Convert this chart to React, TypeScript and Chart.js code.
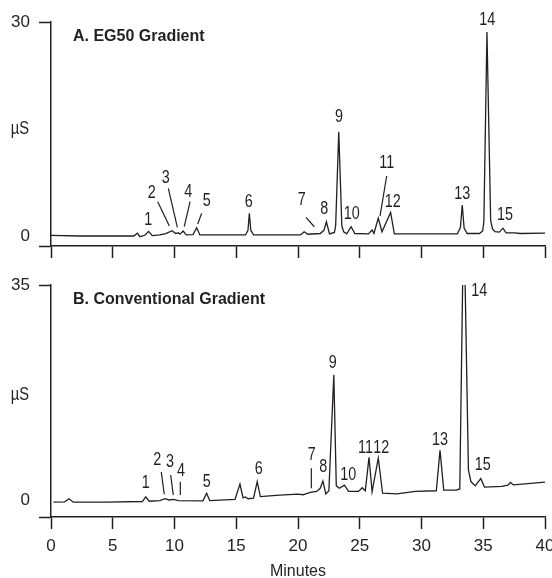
import React, { useEffect, useRef } from 'react';
import { Chart, registerables } from 'chart.js';

Chart.register(...registerables);

// ---------- data (minutes, µS) ----------
const minuteTicks = [0, 5, 10, 15, 20, 25, 30, 35, 40];

const timeA = [0, 2.3, 6.7, 7.0, 7.2, 7.6, 7.9, 8.2, 8.8, 9.3, 9.8, 10.1, 10.3, 10.45, 10.7, 10.95, 11.5, 11.8, 12.05,
  15.75, 15.95, 16.06, 16.18, 16.4, 20.2, 20.5, 20.8, 21.8, 22.1, 22.3, 22.55, 22.95, 23.05, 23.3, 23.55, 23.7, 23.95,
  24.3, 24.6, 25.7, 26.0, 26.15, 26.5, 26.8, 27.5, 27.8, 32.9, 33.15, 33.3, 33.45, 33.7, 34.7, 34.95, 35.05, 35.3,
  35.6, 35.75, 35.95, 36.3, 36.6, 36.85, 37.5, 38.0, 40.0];
const signalA = [0.1, 0.0, 0.0, 0.4, -0.1, 0.1, 0.65, 0.05, 0.15, 0.35, 0.75, 0.35, 0.45, 0.25, 0.7, 0.15, 0.2, 1.15, 0.15,
  0.15, 0.8, 3.2, 0.8, 0.15, 0.15, 0.6, 0.25, 0.35, 0.8, 2.0, 0.3, 0.5, 1.5, 14.6, 1.4, 0.6, 0.3,
  1.3, 0.35, 0.3, 0.85, 0.35, 2.5, 0.6, 3.3, 0.3, 0.3, 1.2, 4.35, 1.1, 0.35, 0.35, 0.7, 2.0, 28.6,
  2.2, 1.0, 0.6, 0.55, 1.1, 0.45, 0.45, 0.35, 0.4];

const timeB = [0.2, 1.1, 1.46, 1.8, 4.5, 7.4, 7.67, 7.95, 8.8, 9.25, 9.55, 9.95, 10.3, 12.3, 12.6, 12.85, 14.9, 15.3,
  15.55, 15.75, 15.95, 16.4, 16.7, 16.95, 18.5, 20.0, 20.4, 21.0, 21.5, 21.8, 22.02, 22.25, 22.5, 22.9, 23.1, 23.35,
  23.75, 24.1, 24.9, 25.2, 25.45, 25.75, 26.0, 26.5, 26.85, 28.0, 29.5, 31.2, 31.5, 31.8, 32.8, 33.1, 33.42, 33.8,
  34.0, 34.35, 34.8, 35.1, 36.5, 37.0, 37.2, 37.45, 40.0];
const signalB = [-0.35, -0.3, 0.2, -0.35, -0.35, -0.25, 0.5, -0.2, -0.1, 0.2, 0.0, 0.1, -0.1, -0.15, 1.1, -0.1, 0.1, 2.6,
  0.35, 0.5, 0.2, 0.3, 3.0, 0.55, 0.8, 0.95, 0.85, 1.25, 1.4, 1.9, 3.1, 1.0, 1.5, 20.4, 2.3, 1.9,
  2.4, 1.4, 1.4, 2.0, 1.5, 6.95, 1.35, 6.8, 1.1, 1.0, 1.4, 1.5, 8.1, 1.6, 1.6, 1.8, 48, 4.9,
  3.0, 2.3, 3.5, 2.1, 2.2, 2.4, 2.85, 2.45, 2.9];

const peakNames = ['1', '2', '3', '4', '5', '6', '7', '8', '9', '10', '11', '12', '13', '14', '15'];

const labelTimeA = [7.88, 8.15, 9.29, 11.12, 12.61, 16.01, 20.3, 22.13, 23.32, 24.35, 27.18, 27.67, 33.3, 35.33, 36.76];
const labelSignalA = [2.24, 6.07, 8.17, 6.21, 4.91, 4.72, 5.05, 3.74, 16.64, 3.04, 10.19, 4.81, 5.85, 30.28, 2.94];
const leaderFromTimeA = [8.64, 9.5, 11.26, 12.2, 20.65, 27.18];
const leaderFromSignalA = [4.81, 6.69, 4.81, 3.18, 2.62, 8.41];
const leaderToTimeA = [9.58, 10.23, 10.79, 11.88, 21.32, 26.64];
const leaderToSignalA = [1.4, 1.22, 1.3, 1.68, 1.3, 2.8];

const labelTimeB = [7.67, 8.61, 9.64, 10.53, 12.61, 16.82, 21.11, 22.05, 22.81, 24.07, 25.47, 26.74, 31.5, 34.68, 34.96];
const labelSignalB = [2.72, 6.51, 6.23, 4.77, 2.98, 5.0, 7.33, 5.42, 22.35, 4.07, 8.46, 8.46, 9.77, 34.07, 5.7];
const leaderFromTimeB = [8.93, 9.69, 10.47, 21.08];
const leaderFromSignalB = [4.56, 4.07, 2.98, 5.16];
const leaderToTimeB = [9.17, 9.9, 10.47, 21.08];
const leaderToSignalB = [0.93, 0.81, 0.81, 1.9];

// ---------- styles ----------
const INK = '#231f20';
const SANS = "'Liberation Sans', Arial, sans-serif";
const NARROW_SCALE = 0.82;

type Spec = {
  times: number[]; signals: number[]; yMin: number; yMax: number; title: string; unitAt: number;
  labelTimes: number[]; labelSignals: number[];
  fromT: number[]; fromV: number[]; toT: number[]; toV: number[];
  showX: boolean; width: number; height: number; padTop: number; xHeight: number;
};

const specA: Spec = {
  times: timeA, signals: signalA, yMin: -1.4, yMax: 30, title: 'A. EG50 Gradient', unitAt: 15,
  labelTimes: labelTimeA, labelSignals: labelSignalA,
  fromT: leaderFromTimeA, fromV: leaderFromSignalA, toT: leaderToTimeA, toV: leaderToSignalA,
  showX: false, width: 552, height: 268, padTop: 22, xHeight: 22,
};
const specB: Spec = {
  times: timeB, signals: signalB, yMin: -2.77, yMax: 35, title: 'B. Conventional Gradient', unitAt: 17.1,
  labelTimes: labelTimeB, labelSignals: labelSignalB,
  fromT: leaderFromTimeB, fromV: leaderFromSignalB, toT: leaderToTimeB, toV: leaderToSignalB,
  showX: true, width: 552, height: 310, padTop: 17, xHeight: 61,
};

function narrowText(ctx: CanvasRenderingContext2D, text: string, x: number, y: number) {
  ctx.save();
  ctx.translate(x, y);
  ctx.scale(NARROW_SCALE, 1);
  ctx.fillText(text, 0, 0);
  ctx.restore();
}

function annotator(spec: Spec) {
  return {
    id: 'annotate',
    afterDatasetsDraw(chart: any) {
      const { ctx, chartArea } = chart;
      const x = chart.scales.x;
      const y = chart.scales.y;
      ctx.save();
      ctx.fillStyle = INK;
      ctx.strokeStyle = INK;
      ctx.textBaseline = 'middle';
      ctx.textAlign = 'left';
      ctx.font = `bold 16px ${SANS}`;
      ctx.fillText(spec.title, chartArea.left + 22, chartArea.top + 15);
      ctx.textAlign = 'center';
      ctx.font = `18px ${SANS}`;
      narrowText(ctx, 'µS', 20, y.getPixelForValue(spec.unitAt));
      ctx.font = `17.5px ${SANS}`;
      peakNames.forEach((n, i) => {
        narrowText(ctx, n, x.getPixelForValue(spec.labelTimes[i]), y.getPixelForValue(spec.labelSignals[i]));
      });
      ctx.lineWidth = 1.2;
      spec.fromT.forEach((t, i) => {
        ctx.beginPath();
        ctx.moveTo(x.getPixelForValue(t), y.getPixelForValue(spec.fromV[i]));
        ctx.lineTo(x.getPixelForValue(spec.toT[i]), y.getPixelForValue(spec.toV[i]));
        ctx.stroke();
      });
      ctx.restore();
    },
  };
}

function Panel({ spec, top }: { spec: Spec; top: number }) {
  const ref = useRef<HTMLCanvasElement | null>(null);
  useEffect(() => {
    if (!ref.current) return;
    const pts = spec.times.map((t, i) => ({ x: t, y: spec.signals[i] }));
    const font = { family: SANS, size: 17 };
    const chart = new Chart(ref.current, {
      type: 'line',
      data: {
        datasets: [{
          data: pts, borderColor: INK, borderWidth: 1.3, pointRadius: 0, tension: 0, fill: false,
        }],
      },
      options: {
        animation: false,
        responsive: false,
        maintainAspectRatio: false,
        layout: { padding: { left: 0, right: 7, top: spec.padTop, bottom: 0 } },
        plugins: { legend: { display: false }, tooltip: { enabled: false } },
        scales: {
          x: {
            type: 'linear', min: 0, max: 40,
            afterBuildTicks: (s: any) => { s.ticks = minuteTicks.map((v) => ({ value: v })); },
            ticks: {
              display: spec.showX, font, color: INK, padding: 7, maxRotation: 0, autoSkip: false,
              callback: (v: any) => String(v),
            },
            grid: { drawOnChartArea: false, drawTicks: true, tickLength: 12, tickColor: INK, tickWidth: 1.5 },
            border: { color: INK, width: 1.5 },
            title: {
              display: spec.showX, text: 'Minutes', color: INK,
              font: { family: SANS, size: 16, lineHeight: 0.75 }, padding: { top: 0, bottom: 0 },
            },
            afterFit: (s: any) => { s.height = spec.xHeight; s.paddingLeft = 0; s.paddingRight = 0; },
          },
          y: {
            type: 'linear', min: spec.yMin, max: spec.yMax,
            afterBuildTicks: (s: any) => { s.ticks = [spec.yMin, 0, spec.yMax].map((v) => ({ value: v })); },
            ticks: {
              font, color: INK, padding: 9, autoSkip: false,
              callback: (v: any) => (v === 0 || v === spec.yMax ? String(v) : ''),
            },
            grid: {
              drawOnChartArea: false, drawTicks: true, tickLength: 12, tickWidth: 1.5,
              tickColor: (c: any) => (c.tick && c.tick.value === 0 ? 'rgba(0,0,0,0)' : INK),
            },
            border: { color: INK, width: 1.5 },
            afterFit: (s: any) => { s.width = 51; s.paddingTop = 0; s.paddingBottom = 0; },
          },
        },
      } as any,
      plugins: [annotator(spec)],
    });
    return () => chart.destroy();
  }, [spec]);
  return (
    <canvas
      ref={ref}
      width={spec.width}
      height={spec.height}
      style={{ position: 'absolute', left: 0, top, width: spec.width, height: spec.height }}
    />
  );
}

export default function App() {
  return (
    <div style={{ position: 'fixed', left: 0, top: 0, width: 552, height: 578, background: '#fff' }}>
      <Panel spec={specA} top={0} />
      <Panel spec={specB} top={268} />
    </div>
  );
}
